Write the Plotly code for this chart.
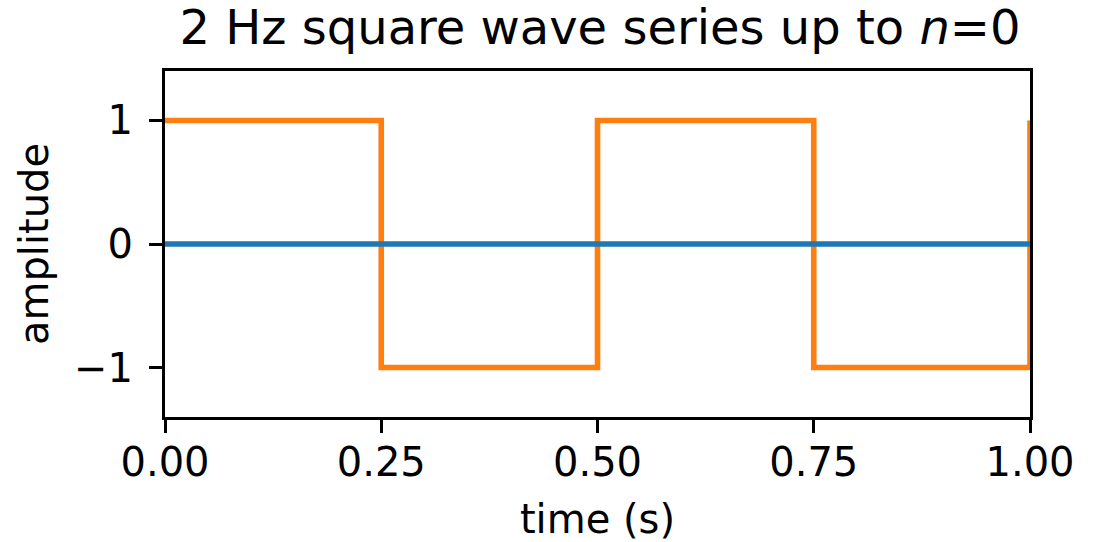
import plotly.graph_objects as go

# Data
square_t = [0.0, 0.25, 0.25, 0.5, 0.5, 0.75, 0.75, 1.0, 1.0]
square_y = [1, 1, -1, -1, 1, 1, -1, -1, 1]
series_t = [0.0, 0.25, 0.5, 0.75, 1.0]
series_y = [0, 0, 0, 0, 0]
x_ticks = [0.0, 0.25, 0.5, 0.75, 1.0]
y_ticks = [-1, 0, 1]

FONT = "DejaVu Sans"

fig = go.Figure()
fig.add_trace(go.Scatter(x=square_t, y=square_y, mode="lines",
                         line=dict(color="#ff7f0e", width=5.6), showlegend=False))
fig.add_trace(go.Scatter(x=series_t, y=series_y, mode="lines",
                         line=dict(color="#1f77b4", width=5.6), showlegend=False))

fig.update_layout(
    width=1094, height=542,
    margin=dict(l=165, r=64, t=71, b=125, autoexpand=False),
    paper_bgcolor="white", plot_bgcolor="white",
    font=dict(family=FONT, size=40, color="black"),
    title=dict(text="2 Hz square wave series up to <i>n</i>=0",
               x=600 / 1094, xanchor="center", y=1 - 27 / 542, yanchor="middle",
               yref="container", font=dict(size=48, family=FONT)),
)
fig.update_xaxes(range=[0, 1], tickvals=x_ticks, tickformat=".2f",
                 showgrid=False, zeroline=False,
                 showline=True, mirror=True, linecolor="black", linewidth=3,
                 ticks="outside", ticklen=13, tickwidth=3, tickcolor="black",
                 ticklabelstandoff=-5,
                 title=dict(text="time (s)", standoff=22, font=dict(size=40)))
fig.update_yaxes(range=[-1.4, 1.4], tickvals=y_ticks,
                 showgrid=False, zeroline=False,
                 showline=True, mirror=True, linecolor="black", linewidth=3,
                 ticks="outside", ticklen=13, tickwidth=3, tickcolor="black",
                 ticklabelstandoff=8,
                 title=dict(text="amplitude", standoff=14, font=dict(size=40)))

fig.write_html("out.html", config={"displayModeBar": False},
               post_script="document.body.style.margin='0';")
